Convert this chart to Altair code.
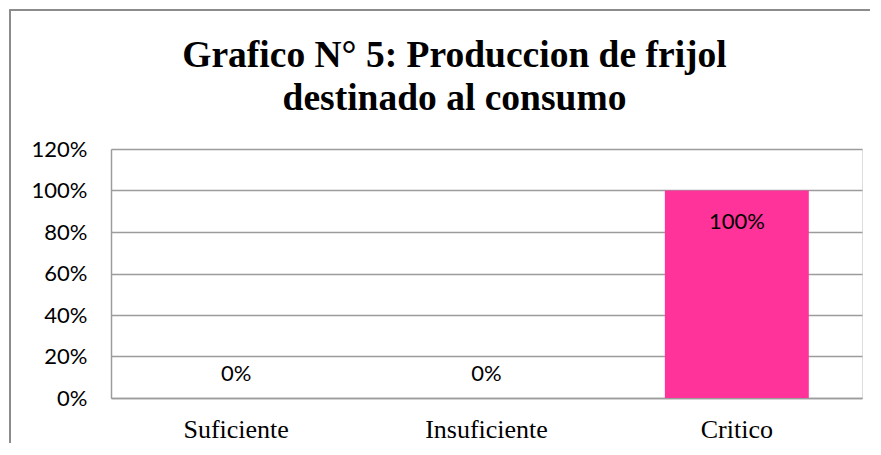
import altair as alt
import pandas as pd

categories = ["Suficiente", "Insuficiente", "Critico"]
values = [0.0, 0.0, 1.0]
y_ticks = [0, 0.2, 0.4, 0.6, 0.8, 1.0, 1.2]
title_lines = ["Grafico N° 5: Produccion de frijol", "destinado al consumo"]

df = pd.DataFrame({"cat": categories, "value": values})

GRID = "#9C9C9C"
SANS = "Lato"
SERIF = "Liberation Serif"

x_enc = alt.X(
    "cat:N",
    sort=categories,
    title=None,
    scale=alt.Scale(paddingInner=0.425, paddingOuter=0.2125),
    axis=alt.Axis(
        labelFont=SERIF, labelFontSize=26, labelColor="black", labelAngle=0,
        labelBaseline="alphabetic", labelPadding=39, ticks=False, tickSize=0,
        domainColor=GRID, domainWidth=1.5, grid=False,
    ),
)
y_enc = alt.Y(
    "value:Q",
    title=None,
    scale=alt.Scale(domain=[0, 1.2], nice=False),
    axis=alt.Axis(
        values=y_ticks, format=".0%", labelFont=SANS, labelFontSize=22,
        labelColor="black", labelPadding=24, ticks=False, tickSize=0,
        domainColor=GRID, domainWidth=1.5, gridColor=GRID, gridWidth=1.5,
    ),
)

base = alt.Chart(df)

bars = base.mark_bar(color="#FF3399").encode(x=x_enc, y=y_enc)

label_pos = base.transform_filter("datum.value > 0").mark_text(
    baseline="alphabetic", dy=38, font=SANS, fontSize=22, color="black"
).encode(x=alt.X("cat:N", sort=categories), y="value:Q",
         text=alt.Text("value:Q", format=".0%"))

label_zero = base.transform_filter("datum.value == 0").mark_text(
    baseline="alphabetic", dy=-17, font=SANS, fontSize=22, color="black"
).encode(x=alt.X("cat:N", sort=categories), y="value:Q",
         text=alt.Text("value:Q", format=".0%"))

frame = base.mark_rect(fill=None, fillOpacity=0, stroke="#8A8A8A", strokeWidth=1.5,
                       clip=False).encode(
    x=alt.value(-101), x2=alt.value(900), y=alt.value(-139), y2=alt.value(400)
)

chart = (
    alt.layer(bars, label_pos, label_zero, frame)
    .properties(
        width=751,
        height=249,
        autosize=alt.AutoSizeParams(type="none"),
        padding={"left": 103, "top": 141, "right": 8, "bottom": 45},
        title=alt.Title(
            text=title_lines, font=SERIF, fontSize=37.5, fontWeight="bold",
            color="black", anchor="middle", dx=-32, lineHeight=43,
            baseline="alphabetic", offset=0, dy=138,
        ),
    )
    .configure_view(stroke=None)
    .configure(background="white")
)

chart.save("out.html", embed_options={"renderer": "svg", "actions": False})
